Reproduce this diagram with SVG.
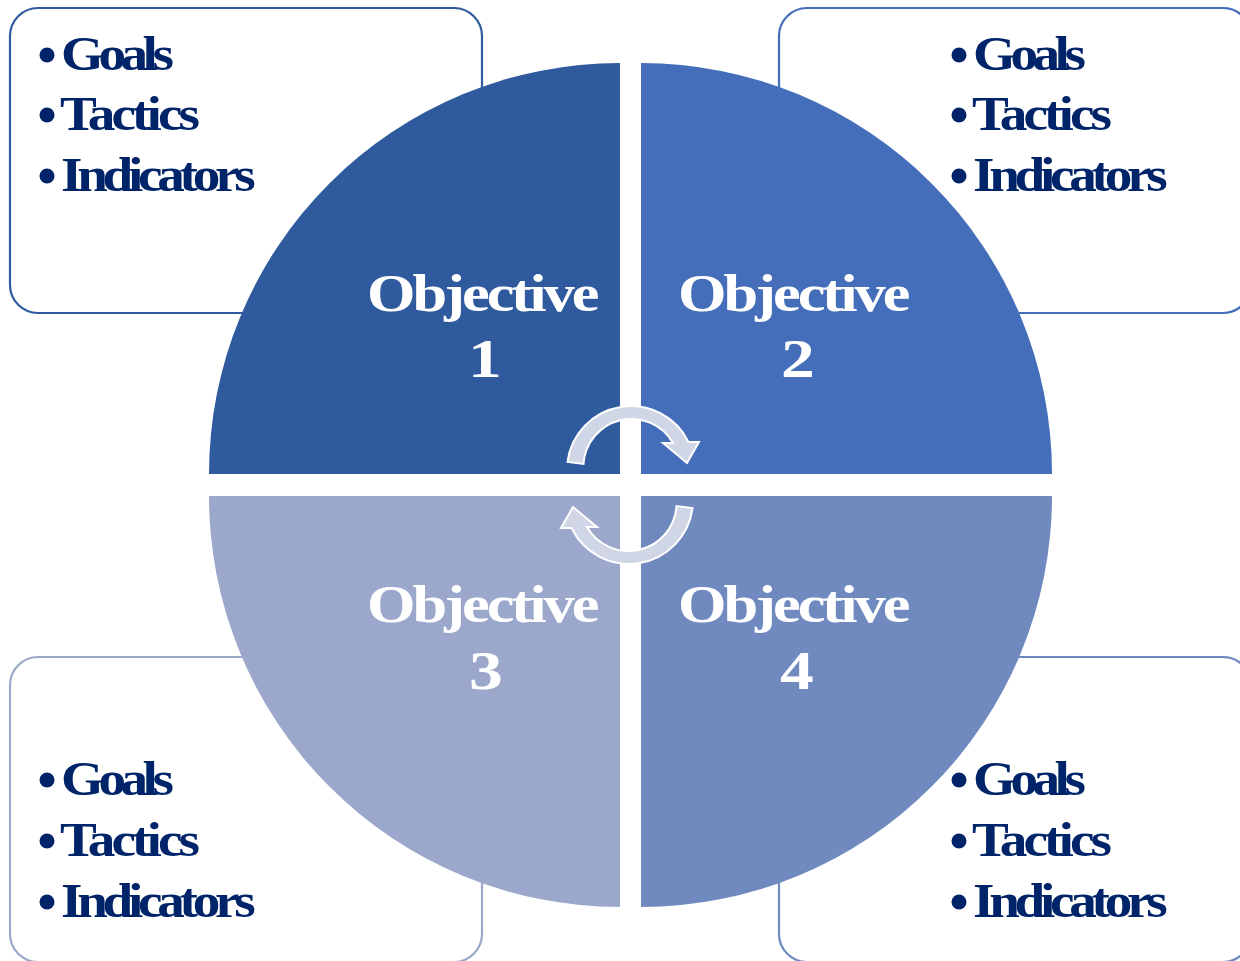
<svg xmlns="http://www.w3.org/2000/svg" width="1240" height="961" viewBox="0 0 1240 961">
  <style>
    .box { fill: #FFFFFF; stroke-width: 2.2; }
    .item { font-family: "Liberation Serif", "Times New Roman", serif; font-weight: bold; font-size: 48px; fill: #002469; }
    .g { letter-spacing: -4.8px; }
    .t { letter-spacing: -3.4px; }
    .i { letter-spacing: -4.6px; }
    .dot { fill: #002469; }
    .obj { font-family: "Liberation Serif", "Times New Roman", serif; font-weight: bold; font-size: 52px; fill: #FFFFFF; letter-spacing: -2.5px; }
    .num { font-family: "Liberation Serif", "Times New Roman", serif; font-weight: bold; font-size: 54px; fill: #FFFFFF; text-anchor: middle; }
    .arrow { fill: #D0D6E6; stroke: #FFFFFF; stroke-width: 2; stroke-linejoin: miter; }
  </style>
  <rect width="1240" height="961" fill="#FFFFFF"/>

  <!-- side boxes -->
  <g id="box1">
    <rect class="box" x="10" y="8" width="472" height="305" rx="28" stroke="#2F5A9E"/>
    <circle class="dot" cx="47" cy="55" r="7.5"/>
    <text class="item g" transform="translate(61,70) scale(1.15,1)">Goals</text>
    <circle class="dot" cx="47" cy="115" r="7.5"/>
    <text class="item t" transform="translate(60,130) scale(1.15,1)">Tactics</text>
    <circle class="dot" cx="47" cy="176" r="7.5"/>
    <text class="item i" transform="translate(61,191) scale(1.15,1)">Indicators</text>
  </g>
  <g id="box2">
    <rect class="box" x="779" y="8" width="472" height="305" rx="28" stroke="#446EBA"/>
    <circle class="dot" cx="959" cy="55" r="7.5"/>
    <text class="item g" transform="translate(973,70) scale(1.15,1)">Goals</text>
    <circle class="dot" cx="959" cy="115" r="7.5"/>
    <text class="item t" transform="translate(972,130) scale(1.15,1)">Tactics</text>
    <circle class="dot" cx="959" cy="176" r="7.5"/>
    <text class="item i" transform="translate(973,191) scale(1.15,1)">Indicators</text>
  </g>
  <g id="box3">
    <rect class="box" x="10" y="657" width="472" height="305" rx="28" stroke="#9BA8CB"/>
    <circle class="dot" cx="47" cy="780" r="7.5"/>
    <text class="item g" transform="translate(61,795) scale(1.15,1)">Goals</text>
    <circle class="dot" cx="47" cy="841" r="7.5"/>
    <text class="item t" transform="translate(60,856) scale(1.15,1)">Tactics</text>
    <circle class="dot" cx="47" cy="902" r="7.5"/>
    <text class="item i" transform="translate(61,917) scale(1.15,1)">Indicators</text>
  </g>
  <g id="box4">
    <rect class="box" x="779" y="657" width="472" height="305" rx="28" stroke="#708AC0"/>
    <circle class="dot" cx="959" cy="780" r="7.5"/>
    <text class="item g" transform="translate(973,795) scale(1.15,1)">Goals</text>
    <circle class="dot" cx="959" cy="841" r="7.5"/>
    <text class="item t" transform="translate(972,856) scale(1.15,1)">Tactics</text>
    <circle class="dot" cx="959" cy="902" r="7.5"/>
    <text class="item i" transform="translate(973,917) scale(1.15,1)">Indicators</text>
  </g>

  <!-- quadrants -->
  <g id="objective1">
    <path d="M620,474 L209,474 A411,411 0 0 1 620,63 Z" fill="#2F5A9E"/>
    <text class="obj" transform="translate(367,311) scale(1.2,1)">Objective</text>
    <text class="num" transform="translate(485,377) scale(1.25,1)">1</text>
  </g>
  <g id="objective2">
    <path d="M641,474 L641,63 A411,411 0 0 1 1052,474 Z" fill="#446EBA"/>
    <text class="obj" transform="translate(678,311) scale(1.2,1)">Objective</text>
    <text class="num" transform="translate(798,377) scale(1.25,1)">2</text>
  </g>
  <g id="objective3">
    <path d="M620,496 L620,907 A411,411 0 0 1 209,496 Z" fill="#9BA8CB"/>
    <text class="obj" transform="translate(367,622) scale(1.2,1)">Objective</text>
    <text class="num" transform="translate(486,689) scale(1.25,1)">3</text>
  </g>
  <g id="objective4">
    <path d="M641,496 L1052,496 A411,411 0 0 1 641,907 Z" fill="#708AC0"/>
    <text class="obj" transform="translate(678,622) scale(1.2,1)">Objective</text>
    <text class="num" transform="translate(797,689) scale(1.25,1)">4</text>
  </g>

  <!-- connectors: circular arrows -->
  <g id="connectors">
    <path id="arrowTop" class="arrow" d="M567.5,462 A64,64 0 0 1 688.5,442 L699,442 L687,463 L663,443 L673,443 A48,48 0 0 0 583.5,464 Z"/>
    <path id="arrowBottom" class="arrow" transform="rotate(180 630 485)" d="M567.5,462 A64,64 0 0 1 688.5,442 L699,442 L687,463 L663,443 L673,443 A48,48 0 0 0 583.5,464 Z"/>
  </g>
</svg>
